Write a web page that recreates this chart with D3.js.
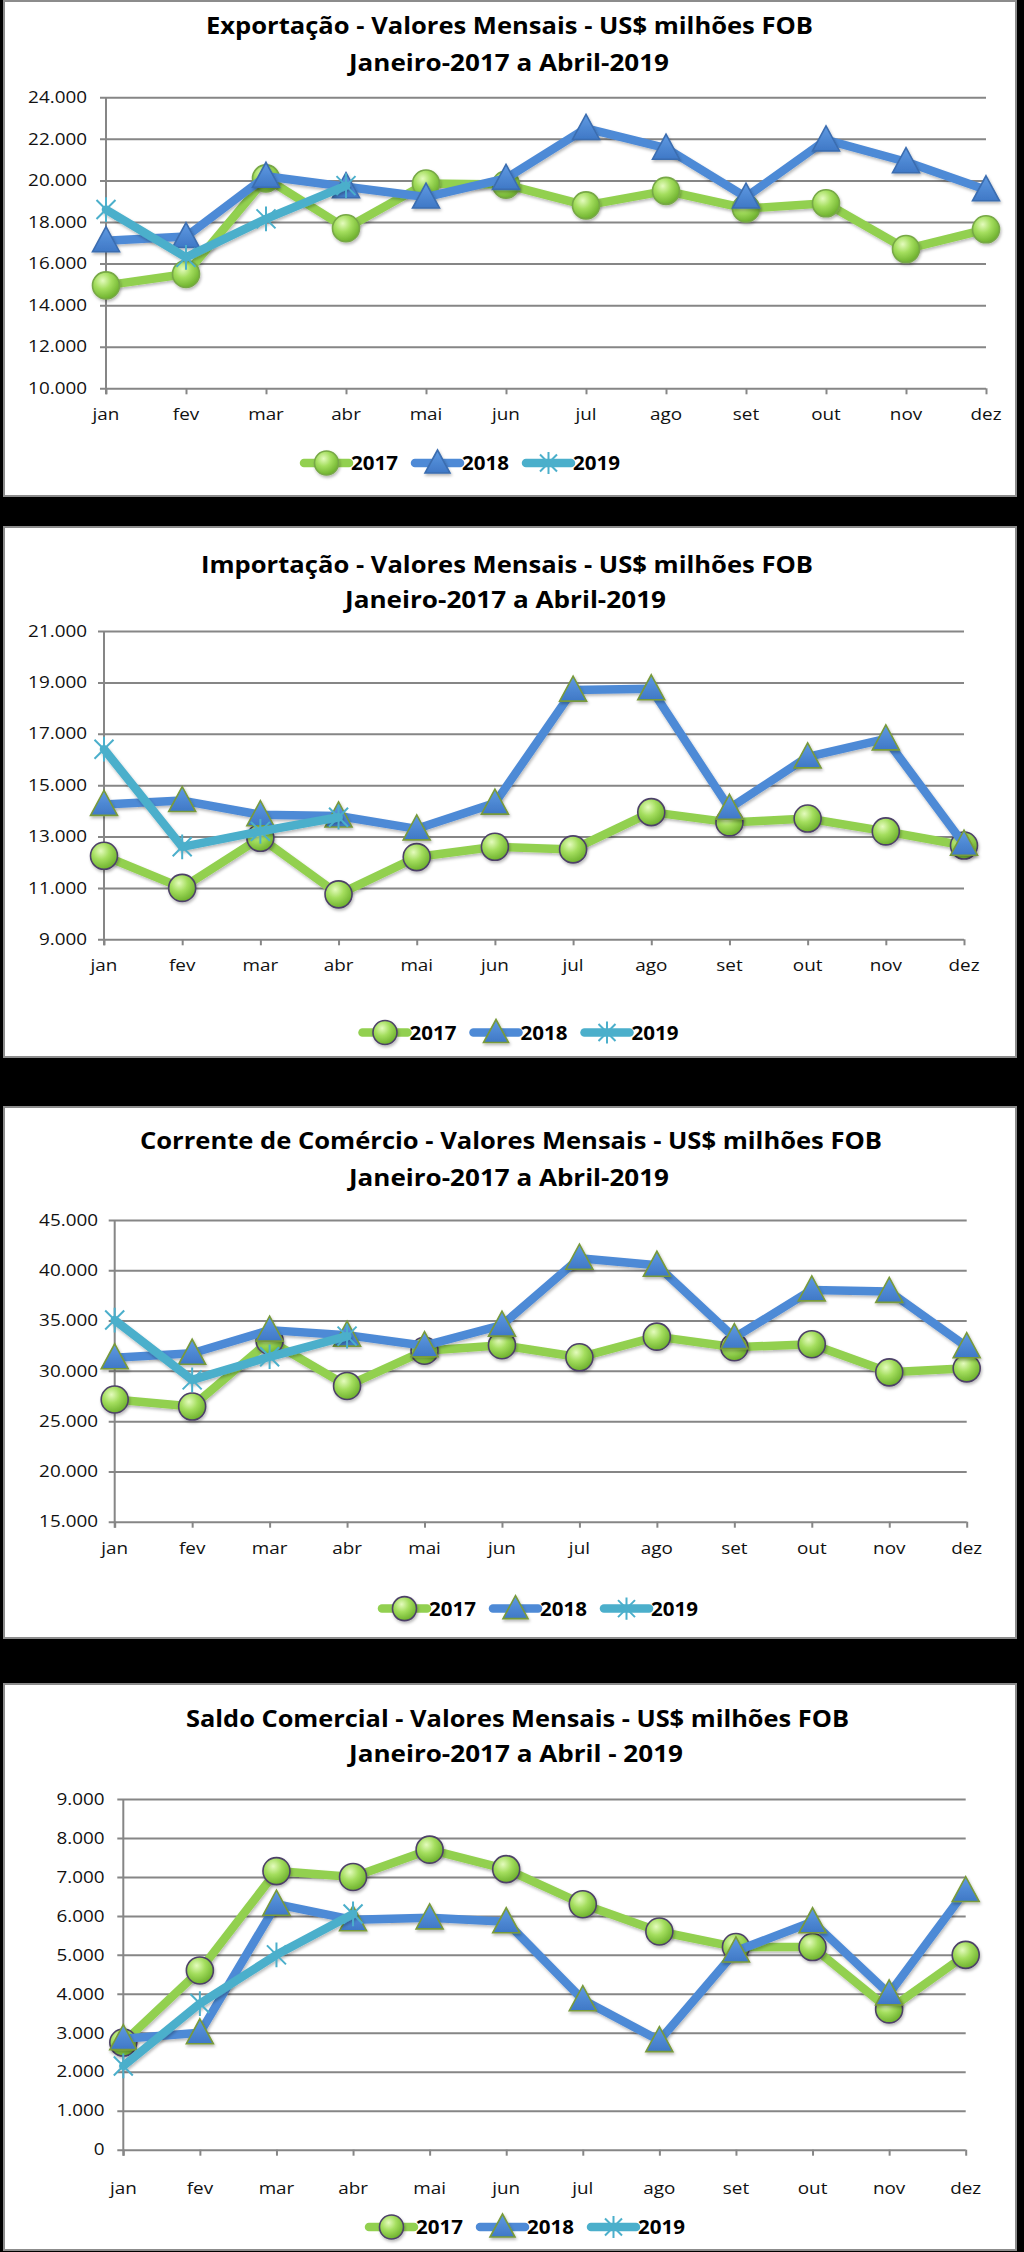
<!DOCTYPE html>
<html><head><meta charset="utf-8">
<script src="https://cdn.jsdelivr.net/npm/d3@7"></script>
<style>
html,body{margin:0;padding:0;background:#000;}
svg{display:block;}
</style></head><body>
<svg id="chart" width="1024" height="2252"></svg>
<script>
// ---------- DATA ----------
const months = ["jan","fev","mar","abr","mai","jun","jul","ago","set","out","nov","dez"];
const years = ["2017","2018","2019"];

const exp2017 = [14950, 15500, 20100, 17700, 19850, 19800, 18800, 19500, 18650, 18900, 16700, 17650];
const exp2018 = [17100, 17300, 20200, 19700, 19200, 20100, 22500, 21550, 19200, 21950, 20900, 19550];
const exp2019 = [18600, 16300, 18150, 19750];

const imp2017 = [12250, 11000, 12950, 10750, 12200, 12600, 12500, 13950, 13550, 13700, 13200, 12650];
const imp2018 = [14250, 14400, 13850, 13800, 13300, 14300, 18700, 18750, 14100, 16100, 16800, 12700];
const imp2019 = [16400, 12600, 13200, 13750];

const cor2017 = [27150, 26450, 33000, 28500, 32000, 32550, 31350, 33400, 32350, 32650, 29850, 30250];
const cor2018 = [31300, 31750, 34050, 33550, 32500, 34550, 41200, 40500, 33300, 38050, 37900, 32400];
const cor2019 = [35050, 29100, 31400, 33450];

const sal2017 = [2750, 4600, 7150, 7000, 7700, 7200, 6300, 5600, 5200, 5200, 3600, 5000];
const sal2018 = [2850, 3000, 6300, 5900, 5950, 5850, 3850, 2800, 5100, 5850, 4000, 6650];
const sal2019 = [2150, 3750, 5000, 6050];

const expTicks = [10000, 12000, 14000, 16000, 18000, 20000, 22000, 24000];
const impTicks = [9000, 11000, 13000, 15000, 17000, 19000, 21000];
const corTicks = [15000, 20000, 25000, 30000, 35000, 40000, 45000];
const salTicks = [0, 1000, 2000, 3000, 4000, 5000, 6000, 7000, 8000, 9000];

const expTitle = ["Exportação - Valores Mensais -  US$ milhões FOB", "Janeiro-2017 a Abril-2019"];
const impTitle = ["Importação - Valores Mensais -  US$ milhões FOB", "Janeiro-2017 a Abril-2019"];
const corTitle = ["Corrente de Comércio - Valores Mensais -  US$ milhões FOB", "Janeiro-2017 a Abril-2019"];
const salTitle = ["Saldo Comercial - Valores Mensais - US$ milhões FOB", "Janeiro-2017 a Abril - 2019"];

// ---------- LAYOUT ----------
const panels = [
  {title: expTitle, series: [exp2017, exp2018, exp2019], ticks: expTicks,
   top: 1, bottom: 496, x0: 106, x1: 986, yTop: 97.3, yBot: 388.3,
   t1: {y: 34.2, cx: 509.5, w: 607}, t2: {y: 70.6, cx: 509, w: 320},
   yLabRight: 87, xLabY: 419.6, legX: 304, legY: 463, dark: false},
  {title: impTitle, series: [imp2017, imp2018, imp2019], ticks: impTicks,
   top: 527, bottom: 1057, x0: 104, x1: 964, yTop: 631, yBot: 939.3,
   t1: {y: 573, cx: 507, w: 612}, t2: {y: 607.5, cx: 505.5, w: 321},
   yLabRight: 87, xLabY: 970.7, legX: 362.5, legY: 1032.5, dark: true},
  {title: corTitle, series: [cor2017, cor2018, cor2019], ticks: corTicks,
   top: 1107, bottom: 1638, x0: 114.7, x1: 966.7, yTop: 1220, yBot: 1521.7,
   t1: {y: 1149, cx: 511, w: 742}, t2: {y: 1186, cx: 509, w: 320},
   yLabRight: 98, xLabY: 1554.3, legX: 382, legY: 1608.6, dark: true},
  {title: salTitle, series: [sal2017, sal2018, sal2019], ticks: salTicks,
   top: 1684, bottom: 2250, x0: 123.3, x1: 965.7, yTop: 1799, yBot: 2149.7,
   t1: {y: 1726.6, cx: 517.5, w: 663}, t2: {y: 1762, cx: 516, w: 334},
   yLabRight: 104.5, xLabY: 2194.3, legX: 369, legY: 2227, dark: true}
];

const colors = ["#92D050", "#4E8AD6", "#4BAFCB"];
const FONT = "'Open Sans', 'Noto Sans', 'Liberation Sans', sans-serif";
const TICK_SX = 1.18;

const loc = d3.formatLocale({decimal: ",", thousands: ".", grouping: [3], currency: ["", ""]});
const fmt = loc.format(",.0f");

const svg = d3.select("#chart");
const defs = svg.append("defs");

const rg = defs.append("radialGradient").attr("id", "gCirc").attr("cx", "38%").attr("cy", "32%").attr("r", "70%");
rg.append("stop").attr("offset", "0%").attr("stop-color", "#e4fbbd");
rg.append("stop").attr("offset", "45%").attr("stop-color", "#a4de5e");
rg.append("stop").attr("offset", "100%").attr("stop-color", "#6cb02c");
const tg = defs.append("linearGradient").attr("id", "gTri").attr("x1", 0).attr("y1", 0).attr("x2", 0).attr("y2", 1);
tg.append("stop").attr("offset", "0%").attr("stop-color", "#5f9ae2");
tg.append("stop").attr("offset", "100%").attr("stop-color", "#3f78c6");
const f = defs.append("filter").attr("id", "sh").attr("x", "-20%").attr("y", "-20%").attr("width", "140%").attr("height", "160%");
f.append("feDropShadow").attr("dx", 1).attr("dy", 2).attr("stdDeviation", 1.5).attr("flood-color", "#000").attr("flood-opacity", 0.28);

const triPath = "M0,-14L13.5,11L-13.5,11Z";
const triPathL = "M0,-13L12.5,10L-12.5,10Z";
const starPath = s => `M${-s},${-s}L${s},${s}M${-s},${s}L${s},${-s}M0,${-s * 1.3}L0,${s * 1.3}`;

function drawMarker(g, i, x, y, dark, small) {
  if (i === 0) {
    g.append("circle").attr("cx", x).attr("cy", y).attr("r", small ? 12 : 13.5)
      .attr("fill", "url(#gCirc)").attr("stroke", dark ? "#4d4168" : "#77a846").attr("stroke-width", 1.6)
      .attr("filter", "url(#sh)");
  } else if (i === 1) {
    g.append("path").attr("d", small ? triPathL : triPath).attr("transform", `translate(${x},${y})`)
      .attr("fill", "url(#gTri)").attr("stroke", dark ? "#789a3a" : "#3b6db0").attr("stroke-width", 1.6)
      .attr("filter", "url(#sh)");
  } else {
    g.append("path").attr("d", starPath(small ? 8.5 : 9.5)).attr("transform", `translate(${x},${y})`)
      .attr("fill", "none").attr("stroke", colors[2]).attr("stroke-width", 2);
  }
}

panels.forEach(p => {
  const g = svg.append("g");
  g.append("rect").attr("x", 4).attr("y", p.top).attr("width", 1012).attr("height", p.bottom - p.top)
    .attr("fill", "#fff").attr("stroke", "#8c8c8c").attr("stroke-width", 2);

  [p.t1, p.t2].forEach((t, k) => {
    g.append("text").attr("x", t.cx).attr("y", t.y).attr("text-anchor", "middle")
      .attr("font-family", FONT).attr("font-weight", "bold").attr("font-size", 22.5).attr("fill", "#000")
      .attr("textLength", t.w).attr("lengthAdjust", "spacingAndGlyphs").text(p.title[k]);
  });

  const x = d3.scalePoint().domain(months).range([p.x0, p.x1]);
  const y = d3.scaleLinear().domain([p.ticks[0], p.ticks[p.ticks.length - 1]]).range([p.yBot, p.yTop]);

  const yAxis = d3.axisLeft(y).tickValues(p.ticks).tickSize(-(p.x1 - p.x0)).tickSizeOuter(0).tickFormat("");
  const ga = g.append("g").attr("transform", `translate(${p.x0},0)`).call(yAxis);
  ga.select(".domain").remove();
  ga.selectAll(".tick line").attr("stroke", "#868686").attr("stroke-width", 2).attr("x1", -6);

  g.append("line").attr("x1", p.x0).attr("x2", p.x0).attr("y1", p.yTop).attr("y2", p.yBot + 6)
    .attr("stroke", "#868686").attr("stroke-width", 2);

  const xAxis = d3.axisBottom(x).tickSize(6).tickSizeOuter(0).tickFormat("");
  const gx = g.append("g").attr("transform", `translate(0,${p.yBot})`).call(xAxis);
  gx.select(".domain").remove();
  gx.selectAll(".tick line").attr("stroke", "#868686").attr("stroke-width", 2);

  p.ticks.forEach(v => {
    g.append("text").attr("transform", `translate(${p.yLabRight},${y(v) + 5.7}) scale(${TICK_SX},1)`)
      .attr("text-anchor", "end").attr("font-family", FONT).attr("font-size", 16).attr("fill", "#111")
      .text(fmt(v));
  });
  months.forEach(m => {
    g.append("text").attr("transform", `translate(${x(m)},${p.xLabY}) scale(${TICK_SX},1)`)
      .attr("text-anchor", "middle").attr("font-family", FONT).attr("font-size", 16).attr("fill", "#111")
      .text(m);
  });

  const line = d3.line().x((d, i) => x(months[i])).y(d => y(d));
  p.series.forEach((s, i) => {
    g.append("path").attr("d", line(s)).attr("fill", "none").attr("stroke", colors[i])
      .attr("stroke-width", 8.5).attr("stroke-linejoin", "round").attr("stroke-linecap", "round")
      .attr("filter", "url(#sh)");
    s.forEach((v, j) => drawMarker(g, i, x(months[j]), y(v), p.dark, false));
  });

  years.forEach((yr, i) => {
    const lx = p.legX + i * 111;
    g.append("line").attr("x1", lx).attr("x2", lx + 45).attr("y1", p.legY).attr("y2", p.legY)
      .attr("stroke", colors[i]).attr("stroke-width", 8.5).attr("stroke-linecap", "round");
    drawMarker(g, i, lx + 22.5, p.legY, p.dark, true);
    g.append("text").attr("x", lx + 47).attr("y", p.legY + 7.2).attr("font-family", FONT)
      .attr("font-weight", "bold").attr("font-size", 20).attr("fill", "#000")
      .attr("textLength", 47).attr("lengthAdjust", "spacingAndGlyphs").text(yr);
  });
});
</script>
</body></html>
